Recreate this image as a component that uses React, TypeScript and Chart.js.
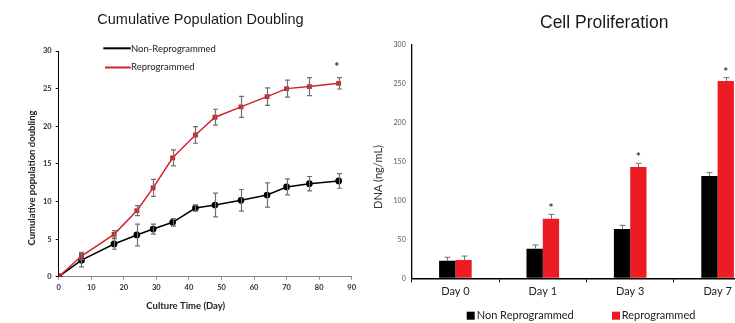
import React, { useEffect, useRef } from 'react';
import { Chart, registerables } from 'chart.js';

Chart.register(...registerables);

// ---------- Left chart data ----------
const leftTitle = 'Cumulative Population Doubling';
const leftXTitle = 'Culture Time (Day)';
const leftYTitle = 'Cumulative population doubling';
const days = [0, 7, 17, 24, 29, 35, 42, 48, 56, 64, 70, 77, 86];
const nonReproDoubling = [0, 2.2, 4.35, 5.55, 6.33, 7.23, 9.13, 9.53, 10.15, 10.86, 11.93, 12.37, 12.73];
const nonReproDoublingErr = [0, 0.9, 0.7, 1.45, 0.66, 0.5, 0.42, 1.57, 1.44, 1.6, 1.06, 0.95, 0.97];
const reproDoubling = [0, 2.75, 5.63, 8.78, 11.8, 15.8, 18.84, 21.2, 22.57, 23.94, 25.0, 25.27, 25.7];
const reproDoublingErr = [0, 0.47, 0.49, 0.66, 1.13, 1.06, 1.1, 1.06, 1.4, 1.17, 1.13, 1.2, 0.75];
const leftSignificantDay = 86;
const leftSignificantValue = 26.45;

// ---------- Right chart data ----------
const rightTitle = 'Cell Proliferation';
const rightYTitle = 'DNA (ng/mL)';
const dayLabels = ['Day 0', 'Day 1', 'Day 3', 'Day 7'];
const nonReproDNA = [22.6, 38, 63.2, 131.2];
const nonReproDNAErr = [4.4, 4.7, 4.7, 4.3];
const reproDNA = [23.5, 76.4, 142.7, 253];
const reproDNAErr = [5, 5.6, 4.7, 4.2];
const dnaSignificant = [false, true, true, true];

const LATO = 'Lato, "Noto Sans", sans-serif';
const ARIAL = '"Liberation Sans", Arial, sans-serif';

const errorBarPlugin = {
  id: 'errBars',
  afterDatasetsDraw(chart: any, _args: any, opts: any) {
    const ctx = chart.ctx;
    const yScale = chart.scales.y;
    chart.data.datasets.forEach((ds: any, di: number) => {
      const errs = ds.errors;
      if (!errs) return;
      const meta = chart.getDatasetMeta(di);
      meta.data.forEach((el: any, i: number) => {
        const e = errs[i];
        if (!e) return;
        const raw = ds.data[i];
        const v = typeof raw === 'number' ? raw : raw.y;
        const x = Math.round(el.x) + 0.5;
        const yTop = yScale.getPixelForValue(v + e);
        const yBot = opts.upOnly ? yScale.getPixelForValue(v) : yScale.getPixelForValue(v - e);
        ctx.save();
        ctx.strokeStyle = opts.color;
        ctx.lineWidth = opts.width;
        ctx.beginPath();
        ctx.moveTo(x, yTop);
        ctx.lineTo(x, yBot);
        ctx.moveTo(x - opts.cap, yTop);
        ctx.lineTo(x + opts.cap, yTop);
        if (!opts.upOnly) {
          ctx.moveTo(x - opts.cap, yBot);
          ctx.lineTo(x + opts.cap, yBot);
        }
        ctx.stroke();
        ctx.restore();
      });
    });
  },
};

const leftTextPlugin = {
  id: 'leftText',
  afterDraw(chart: any) {
    const ctx = chart.ctx;
    ctx.save();
    ctx.fillStyle = '#1a1a1a';
    ctx.font = `14.5px ${ARIAL}`;
    ctx.textAlign = 'left';
    ctx.textBaseline = 'alphabetic';
    ctx.fillText(leftTitle, 97.3, 24);

    // legend
    ctx.lineWidth = 2;
    ctx.strokeStyle = '#000';
    ctx.beginPath();
    ctx.moveTo(103.3, 48.3);
    ctx.lineTo(130.7, 48.3);
    ctx.stroke();
    ctx.strokeStyle = '#d2232a';
    ctx.beginPath();
    ctx.moveTo(105, 67.5);
    ctx.lineTo(130.7, 67.5);
    ctx.stroke();
    ctx.fillStyle = '#222';
    ctx.font = `9.5px ${LATO}`;
    ctx.textBaseline = 'middle';
    ctx.fillText('Non-Reprogrammed', 131, 49);
    ctx.fillText('Reprogrammed', 131, 66.7);

    // axis titles
    ctx.font = `bold 9.5px ${LATO}`;
    ctx.textAlign = 'center';
    ctx.fillText(leftXTitle, 185.8, 306);
    ctx.translate(32, 178);
    ctx.rotate(-Math.PI / 2);
    ctx.fillText(leftYTitle, 0, 0);
    ctx.restore();

    // significance star
    ctx.save();
    const xs = chart.scales.x.getPixelForValue(leftSignificantDay);
    const ys = chart.scales.y.getPixelForValue(leftSignificantValue);
    ctx.fillStyle = '#222';
    ctx.font = `bold 12px ${LATO}`;
    ctx.textAlign = 'center';
    ctx.textBaseline = 'middle';
    ctx.fillText('*', xs - 2, ys - 11);
    ctx.restore();
  },
};

const rightTextPlugin = {
  id: 'rightText',
  afterDraw(chart: any) {
    const ctx = chart.ctx;
    ctx.save();
    ctx.fillStyle = '#1a1a1a';
    ctx.font = `17.5px ${ARIAL}`;
    ctx.textAlign = 'left';
    ctx.textBaseline = 'alphabetic';
    ctx.fillText(rightTitle, 180, 27.7);

    // y title
    ctx.save();
    ctx.fillStyle = '#333';
    ctx.font = `11px ${LATO}`;
    ctx.textAlign = 'center';
    ctx.textBaseline = 'middle';
    ctx.translate(18, 177);
    ctx.rotate(-Math.PI / 2);
    ctx.fillText(rightYTitle, 0, 0);
    ctx.restore();

    // legend
    ctx.fillStyle = '#000';
    ctx.fillRect(106.7, 311.7, 8, 8);
    ctx.fillStyle = '#ed1c24';
    ctx.fillRect(252, 311.7, 8, 8);
    ctx.fillStyle = '#222';
    ctx.font = `11px ${LATO}`;
    ctx.textAlign = 'left';
    ctx.textBaseline = 'middle';
    ctx.fillText('Non Reprogrammed', 116.7, 315.5);
    ctx.fillText('Reprogrammed', 261.7, 315.5);

    // significance stars
    const meta = chart.getDatasetMeta(1);
    const yScale = chart.scales.y;
    ctx.fillStyle = '#333';
    ctx.font = `bold 12px ${LATO}`;
    ctx.textAlign = 'center';
    meta.data.forEach((el: any, i: number) => {
      if (!dnaSignificant[i]) return;
      const top = yScale.getPixelForValue(reproDNA[i] + reproDNAErr[i]);
      ctx.fillText('*', el.x, top - 6);
    });
    ctx.restore();
  },
};

export default function App() {
  const leftRef = useRef<HTMLCanvasElement>(null);
  const rightRef = useRef<HTMLCanvasElement>(null);

  useEffect(() => {
    const tickFontBold = { family: LATO, size: 7.5, weight: 'bold' as const };
    const left = new Chart(leftRef.current!, {
      type: 'line',
      data: {
        datasets: [
          {
            label: 'Reprogrammed',
            data: days.map((d, i) => ({ x: d, y: reproDoubling[i] })),
            errors: reproDoublingErr,
            borderColor: '#d2232a',
            backgroundColor: '#d2232a',
            pointBackgroundColor: '#d2232a',
            pointBorderColor: '#d2232a',
            pointStyle: 'rect',
            pointRadius: 2.4,
            borderWidth: 1.5,
            tension: 0,
          } as any,
          {
            label: 'Non-Reprogrammed',
            data: days.map((d, i) => ({ x: d, y: nonReproDoubling[i] })),
            errors: nonReproDoublingErr,
            borderColor: '#000',
            backgroundColor: '#000',
            pointBackgroundColor: '#000',
            pointBorderColor: '#000',
            pointStyle: 'circle',
            pointRadius: 2.6,
            borderWidth: 1.5,
            tension: 0,
          } as any,
        ],
      },
      options: {
        responsive: false,
        animation: false,
        devicePixelRatio: 1,
        layout: { padding: { top: 51, left: 0, right: 18.3, bottom: 0 } },
        plugins: {
          legend: { display: false },
          title: { display: false },
          tooltip: { enabled: false },
          errBars: { color: '#707070', width: 1.2, cap: 2.5, upOnly: false },
        } as any,
        scales: {
          x: {
            type: 'linear',
            min: 0,
            max: 90,
            ticks: { stepSize: 10, font: tickFontBold, color: '#333', padding: 3, maxRotation: 0 },
            grid: { drawOnChartArea: false, tickLength: 3, color: '#888' },
            border: { color: '#888', width: 1 },
            afterFit: (s: any) => { s.height = 46.3; },
          },
          y: {
            min: 0,
            max: 30,
            ticks: { stepSize: 5, font: tickFontBold, color: '#333', padding: 4 },
            grid: { drawOnChartArea: false, tickLength: 3, color: '#000' },
            border: { color: '#000', width: 1 },
            afterFit: (s: any) => { s.width = 58.7; },
          },
        },
      },
      plugins: [errorBarPlugin, leftTextPlugin],
    } as any);

    const right = new Chart(rightRef.current!, {
      type: 'bar',
      data: {
        labels: dayLabels,
        datasets: [
          {
            label: 'Non Reprogrammed',
            data: nonReproDNA,
            errors: nonReproDNAErr,
            backgroundColor: '#000',
            borderWidth: 0,
            categoryPercentage: 0.373,
            barPercentage: 1,
          } as any,
          {
            label: 'Reprogrammed',
            data: reproDNA,
            errors: reproDNAErr,
            backgroundColor: '#ed1c24',
            borderWidth: 0,
            categoryPercentage: 0.373,
            barPercentage: 1,
          } as any,
        ],
      },
      options: {
        responsive: false,
        animation: false,
        devicePixelRatio: 1,
        layout: { padding: { top: 44.3, left: 0, right: 18.7, bottom: 0 } },
        plugins: {
          legend: { display: false },
          title: { display: false },
          tooltip: { enabled: false },
          errBars: { color: '#707070', width: 1, cap: 3, upOnly: true },
        } as any,
        scales: {
          x: {
            ticks: { font: { family: LATO, size: 11 }, color: '#222', padding: 3, maxRotation: 0 },
            grid: { offset: true, drawOnChartArea: false, tickLength: 4, color: '#000' },
            border: { color: '#000', width: 1.5 },
            afterFit: (s: any) => { s.height = 44.7; },
          },
          y: {
            min: 0,
            max: 300,
            ticks: { stepSize: 50, font: { family: LATO, size: 7 }, color: '#555', padding: 6 },
            grid: { drawOnChartArea: false, drawTicks: false, color: '#000' },
            border: { color: '#000', width: 1.3 },
            afterFit: (s: any) => { s.width = 51.7; },
          },
        },
      },
      plugins: [errorBarPlugin, rightTextPlugin],
    } as any);

    return () => {
      left.destroy();
      right.destroy();
    };
  }, []);

  return (
    <div
      style={{
        position: 'fixed',
        left: 0,
        top: 0,
        width: 735,
        height: 323,
        overflow: 'hidden',
        background: '#fff',
      }}
    >
      <canvas
        ref={leftRef}
        width={370}
        height={323}
        style={{ position: 'absolute', left: 0, top: 0, width: 370, height: 323 }}
      />
      <canvas
        ref={rightRef}
        width={420}
        height={323}
        style={{ position: 'absolute', left: 360, top: 0, width: 420, height: 323 }}
      />
    </div>
  );
}
